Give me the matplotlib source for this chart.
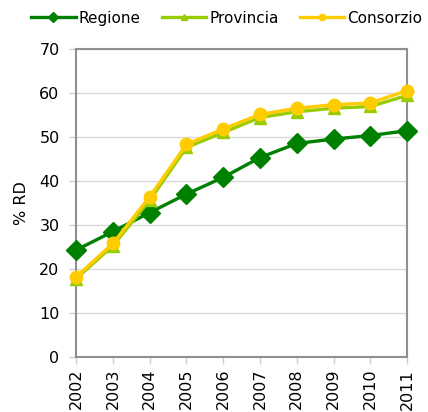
import matplotlib
matplotlib.use("Agg")
import matplotlib.pyplot as plt

anni = ['2002', '2003', '2004', '2005', '2006', '2007', '2008', '2009', '2010', '2011']
regione = [24.3, 28.5, 32.8, 37.0, 40.8, 45.3, 48.5, 49.5, 50.3, 51.4]
provincia = [17.8, 25.3, 35.6, 47.6, 51.0, 54.4, 55.7, 56.5, 56.9, 59.4]
consorzio = [18.2, 25.8, 36.4, 48.3, 51.8, 55.1, 56.5, 57.3, 57.7, 60.5]

plt.rc('font', family='DejaVu Sans', size=11)
fig = plt.figure(figsize=(4.28, 4.12), dpi=100)
ax = fig.add_axes([0.178, 0.1335, 0.773, 0.748])

x = range(len(anni))
ax.plot(x, regione, color='#008000', lw=2.4, marker='D', ms=10, label='Regione', clip_on=False, zorder=3)
ax.plot(x, provincia, color='#99CC00', lw=2.4, marker='^', ms=9, label='Provincia', clip_on=False, zorder=4)
ax.plot(x, consorzio, color='#FFCC00', lw=2.4, marker='o', ms=9, label='Consorzio', clip_on=False, zorder=5)

ax.set_xlim(0, len(anni) - 1)
ax.set_ylim(0, 70)
ax.set_yticks(range(0, 71, 10))
ax.set_xticks(list(x))
ax.set_xticklabels(anni, rotation=90)
ax.grid(axis='y', color='#d9d9d9', lw=1)
ax.set_axisbelow(True)
for s in ax.spines.values():
    s.set_color('#909090')
    s.set_linewidth(1.5)
ax.tick_params(colors='#d0d0d0', labelcolor='black', length=5, width=1, labelsize=11.5)
ax.tick_params(axis='y', pad=7)
ax.set_ylabel('% RD', fontsize=11.5, labelpad=7)

fig.legend(loc='center', bbox_to_anchor=(0.53, 0.956), ncol=3, frameon=False,
           fontsize=11, handlelength=2.9, handletextpad=0.2, columnspacing=1.4,
           markerscale=0.5, borderaxespad=0)

fig.savefig('out.png', dpi=100)
